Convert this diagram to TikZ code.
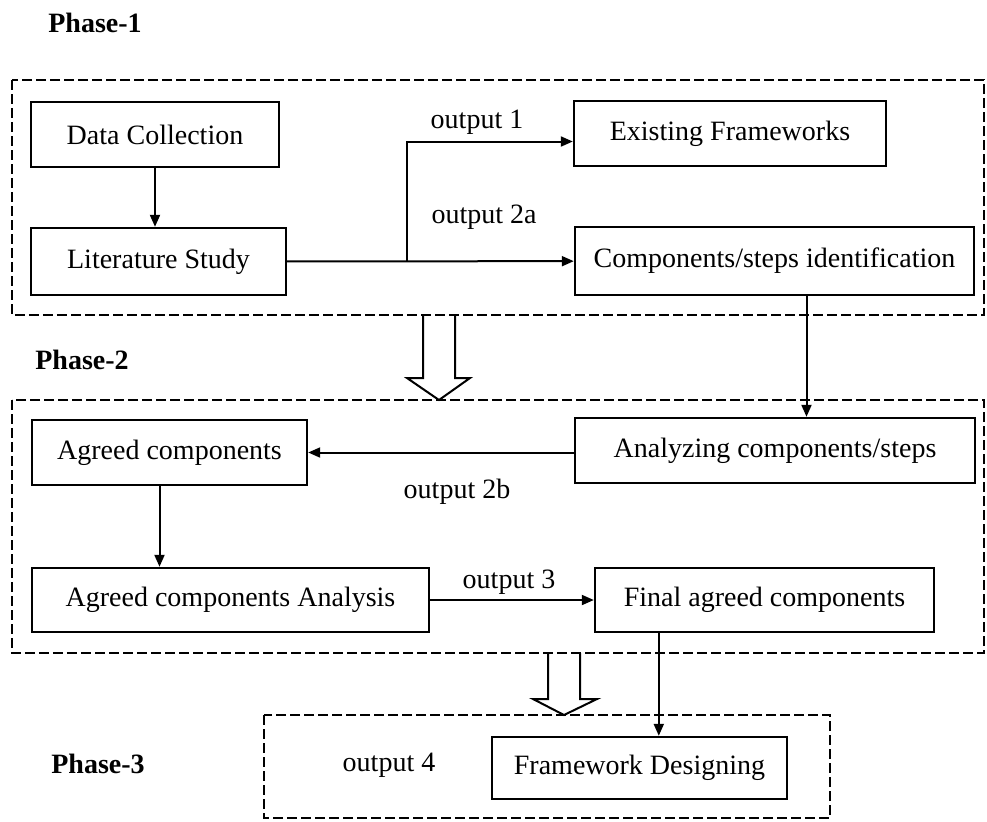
\documentclass[tikz,border=0pt]{standalone}
\usepackage{fontspec}
\setmainfont{Liberation Serif}
\usetikzlibrary{positioning}
\usetikzlibrary{arrows.meta}

\tikzset{
    stepbox/.style={draw,line width=1.2pt,inner sep=0pt,font=\fontsize{14}{16}\selectfont},
    phaseframe/.style={draw,line width=1pt,dash pattern=on 5pt off 2pt},
    outlabel/.style={font=\fontsize{14}{16}\selectfont},
    phaselabel/.style={font=\fontsize{14}{16}\selectfont\bfseries},
    bigarrow/.style={draw,line width=1pt,fill=white},
}

\begin{document}
\begin{tikzpicture}[x=0.5pt,y=-0.5pt,>={Triangle[length=6pt,width=5pt]}]
            \useasboundingbox (0,0) rectangle (987,821);

            \draw[bigarrow] (423,315) -- (423,378) -- (407,378) -- (439,400) -- (470,378) -- (455,378) -- (455,315);
            \draw[bigarrow] (548,653) -- (548,699) -- (533,699) -- (564,715) -- (597,699) -- (580,699) -- (580,653);

            \draw[phaseframe] (12,80) rectangle (984,315);
            \draw[phaseframe] (12,400) rectangle (984,653);
            \draw[phaseframe] (264,715) rectangle (830,818);

            \begin{scope}[every node/.style={stepbox}]
                \node[minimum width=124pt,minimum height=32.5pt] (datacol) at (155,134.5) {Data Collection};
                \node[minimum width=127.5pt,minimum height=33.5pt] (lit) at (158.5,261.5) {Literature Study};
                \node[minimum width=156pt,minimum height=32.5pt] (exist) at (730,133.5) {Existing Frameworks};
                \node[minimum width=199.5pt,minimum height=34pt] (compid) at (774.5,261) {Components/steps identification};
                \node[minimum width=137.5pt,minimum height=32.5pt] (agreed) at (169.5,452.5) {Agreed components};
                \node[minimum width=200pt,minimum height=32.5pt] (analyz) at (775,450.5) {Analyzing components/steps};
                \node[minimum width=198.5pt,minimum height=32pt] (agan) at (230.5,600) {Agreed components Analysis};
                \node[minimum width=169.5pt,minimum height=32pt] (final) at (764.5,600) {Final agreed components};
                \node[minimum width=147.5pt,minimum height=31pt] (framew) at (639.5,768) {Framework Designing};
            \end{scope}

            \node[phaselabel] (ph1) at (95,23) {Phase-1};
            \node[phaselabel] (ph2) at (82,360) {Phase-2};
            \node[phaselabel] (ph3) at (98,764) {Phase-3};

            \node[outlabel] (o1) at (477,122) {output 1};
            \node[outlabel] (o2a) at (484,217) {output 2a};
            \node[outlabel] (o2b) at (457,492) {output 2b};
            \node[outlabel] (o3) at (509,582) {output 3};
            \node[outlabel] (o4) at (389,765) {output 4};

            \coordinate (split) at (407,261);

            \begin{scope}[every path/.style={line width=1pt}]
                \path [->] (lit) edge (compid);
                \path [->] (agan) edge (final);
                \draw [->] (split) |- ([yshift=-4pt]exist.west);
                \draw [->] (datacol.south) -- (datacol.south |- lit.north);
                \draw [->] ([xshift=16pt]compid.south) -- ([xshift=16pt]compid.south |- analyz.north);
                \draw [->] ([yshift=-1pt]analyz.west) -- ([yshift=-1pt]analyz.west -| agreed.east);
                \draw [->] ([xshift=-5pt]agreed.south) -- ([xshift=-5pt]agreed.south |- agan.north);
                \draw [->] ([xshift=32.5pt]final.south west) -- ([xshift=32.5pt]final.south west |- framew.north);
            \end{scope}
        \end{tikzpicture}
\end{document}
